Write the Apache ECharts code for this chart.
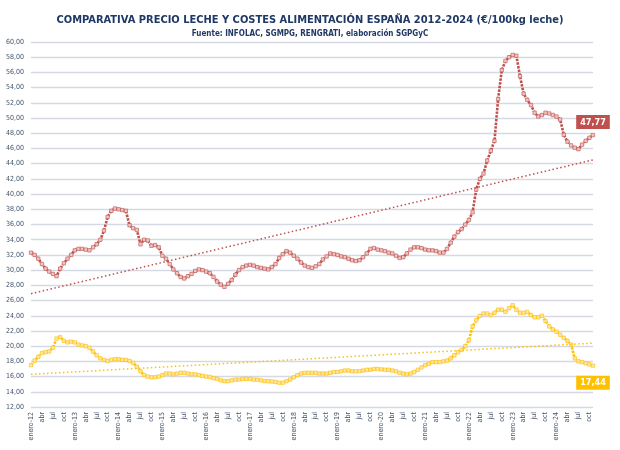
<!DOCTYPE html>
<html>
<head>
<meta charset="utf-8">
<script src="https://cdn.jsdelivr.net/npm/echarts@6/dist/echarts.min.js"></script>
<style>
  html, body { margin: 0; padding: 0; background: #fff; }
  #chart { width: 620px; height: 450px; }
</style>
</head>
<body>
<div id="chart"></div>
<script>
// meses (etiquetas del eje X)
const monthNames = ['enero', 'feb', 'mar', 'abr', 'may', 'jun', 'jul', 'ago', 'sep', 'oct', 'nov', 'dic']
const firstYear = 2012
const monthCount = 155 // enero-12 .. nov-24

// precio leche (€/100kg)
const precioLeche = [
  32.3, 32.0, 31.5, 30.8, 30.2, 29.8, 29.5, 29.2, 30.2, 30.9, 31.5, 32.0,
  32.6, 32.8, 32.8, 32.7, 32.6, 33.0, 33.4, 34.0, 35.2, 37.0, 37.8, 38.1,
  38.0, 37.9, 37.8, 35.9, 35.5, 35.3, 33.4, 34.0, 33.9, 33.2, 33.3, 33.0,
  31.9, 31.5, 30.8, 30.1, 29.6, 29.1, 28.9, 29.2, 29.5, 29.9, 30.1, 30.0,
  29.8, 29.6, 29.1, 28.5, 28.1, 27.8, 28.2, 28.7, 29.4, 30.0, 30.4, 30.6,
  30.7, 30.6, 30.4, 30.3, 30.2, 30.1, 30.4, 30.8, 31.6, 32.1, 32.5, 32.3,
  31.9, 31.5, 31.0, 30.6, 30.4, 30.3, 30.5, 30.8, 31.4, 31.8, 32.2, 32.1,
  32.0, 31.8, 31.7, 31.5, 31.3, 31.2, 31.3, 31.7, 32.2, 32.8, 32.9, 32.7,
  32.6, 32.5, 32.3, 32.2, 31.9, 31.6, 31.7, 32.2, 32.7, 33.0, 33.0, 32.9,
  32.7, 32.6, 32.6, 32.5, 32.3, 32.3, 32.8, 33.6, 34.4, 35.0, 35.4, 36.0,
  36.6, 37.6, 40.6, 42.0, 42.7, 44.4, 45.7, 47.0, 52.5, 56.3, 57.5, 58.0,
  58.3, 58.2, 55.5, 53.2, 52.4, 51.7, 50.7, 50.2, 50.4, 50.7, 50.6, 50.4,
  50.2, 49.8, 47.8, 46.9, 46.4, 46.1, 45.9, 46.5, 47.0, 47.4, 47.77
]

// costes alimentación (€/100kg leche)
const costesAlim = [
  17.5, 18.1, 18.6, 19.1, 19.2, 19.3, 19.8, 21.0, 21.2, 20.7, 20.5, 20.6,
  20.5, 20.2, 20.1, 20.0, 19.8, 19.3, 18.8, 18.4, 18.2, 18.05, 18.2, 18.3,
  18.3, 18.2, 18.2, 18.05, 17.8, 17.3, 16.7, 16.2, 16.0, 15.9, 15.9, 16.0,
  16.2, 16.4, 16.4, 16.3, 16.4, 16.5, 16.5, 16.4, 16.3, 16.3, 16.2, 16.1,
  16.0, 15.95, 15.8, 15.7, 15.5, 15.4, 15.4, 15.5, 15.6, 15.6, 15.7, 15.7,
  15.7, 15.6, 15.6, 15.5, 15.4, 15.4, 15.35, 15.3, 15.2, 15.2, 15.4, 15.6,
  15.9, 16.2, 16.4, 16.5, 16.5, 16.5, 16.5, 16.4, 16.4, 16.4, 16.5, 16.6,
  16.6, 16.7, 16.8, 16.8, 16.7, 16.7, 16.7, 16.8, 16.9, 16.9, 17.0, 17.0,
  16.95, 16.9, 16.9, 16.8, 16.7, 16.5, 16.4, 16.3, 16.4, 16.6, 16.9, 17.2,
  17.5, 17.7, 17.9, 17.9, 17.9, 18.0, 18.1, 18.4, 18.8, 19.2, 19.5, 20.0,
  20.8, 22.6, 23.4, 24.0, 24.3, 24.3, 24.1, 24.4, 24.8, 24.8, 24.5, 25.0,
  25.4, 24.8, 24.4, 24.4, 24.5, 24.1, 23.8, 23.8, 24.0, 23.3, 22.6, 22.2,
  21.9, 21.5, 21.1, 20.7, 20.2, 18.4, 18.0, 17.9, 17.75, 17.6, 17.44
]

// tendencias lineales (inicio, fin)
const tendLeche = [26.9, 44.5]
const tendAlim = [16.3, 20.4]

const categories = []
for (let i = 0; i < monthCount; i++) {
  const m = i % 12
  const y = firstYear + Math.floor(i / 12)
  categories.push(m === 0 ? 'enero-' + String(y).slice(2) : monthNames[m])
}

const redColor = '#c0504d'
const redLight = '#f0c6c4'
const yelColor = '#ffc000'
const yelLight = '#ffe7a3'
const navy = '#1f3864'
const labelColor = '#44546a'
const fontFam = "'Liberation Sans Narrow', 'DejaVu Sans Condensed', sans-serif"

const fmt = (v) => Number(v).toFixed(2).replace('.', ',')
const last = monthCount - 1

const withEndLabel = (arr, color, pos, dist) => arr.map((v, i) => {
  if (i !== last) return v
  return {
    value: v,
    label: {
      show: true,
      position: pos,
      distance: dist,
      formatter: (p) => fmt(p.value),
      color: '#fff',
      fontWeight: 'bold',
      fontSize: 9,
      fontFamily: fontFam,
      backgroundColor: color,
      padding: [3, 4, 2, 4]
    }
  }
})

const chart = echarts.init(document.getElementById('chart'))

const option = {
  animation: false,
  backgroundColor: '#fff',
  title: {
    text: 'COMPARATIVA PRECIO LECHE Y COSTES ALIMENTACIÓN ESPAÑA 2012-2024 (€/100kg leche)',
    subtext: 'Fuente: INFOLAC, SGMPG, RENGRATI, elaboración SGPGyC',
    left: 'center',
    top: 10,
    itemGap: 4,
    textStyle: { color: navy, fontSize: 11, fontWeight: 'bold', fontFamily: fontFam },
    subtextStyle: { color: navy, fontSize: 8, fontWeight: 'bold', fontFamily: fontFam }
  },
  grid: { left: 31, right: 27, top: 42, bottom: 43 },
  xAxis: {
    type: 'category',
    data: categories,
    boundaryGap: false,
    axisLine: { show: false },
    axisTick: { show: false },
    axisLabel: {
      interval: 2,
      rotate: 90,
      margin: 5,
      fontSize: 7,
      color: labelColor,
      fontFamily: fontFam
    },
    splitLine: { show: false }
  },
  yAxis: {
    type: 'value',
    min: 12,
    max: 60,
    interval: 2,
    axisLine: { show: false },
    axisTick: { show: false },
    axisLabel: {
      formatter: fmt,
      fontSize: 7,
      margin: 7,
      color: labelColor,
      fontFamily: fontFam
    },
    splitLine: { lineStyle: { color: '#d5d9e3', width: 1.3 } }
  },
  series: [
    {
      name: 'Precio leche',
      type: 'line',
      data: withEndLabel(precioLeche, redColor, 'top', 4),
      showSymbol: true,
      showAllSymbol: true,
      symbol: 'rect',
      symbolSize: 3.4,
      itemStyle: { color: redLight, borderColor: redColor, borderWidth: 0.6 },
      lineStyle: { color: redColor, width: 2.6, type: [2.5, 1.2] },
      z: 3,
      markLine: {
        silent: true,
        symbol: 'none',
        label: { show: false },
        lineStyle: { color: redColor, type: [1.5, 2.5], width: 1.5 },
        data: [[
          { coord: [categories[0], tendLeche[0]] },
          { coord: [categories[last], tendLeche[1]] }
        ]]
      }
    },
    {
      name: 'Costes alimentación',
      type: 'line',
      data: withEndLabel(costesAlim, yelColor, 'bottom', 8),
      showSymbol: true,
      showAllSymbol: true,
      symbol: 'rect',
      symbolSize: 3.4,
      itemStyle: { color: yelLight, borderColor: yelColor, borderWidth: 0.6 },
      lineStyle: { color: yelColor, width: 2.6, type: [2.5, 1.2] },
      z: 3,
      markLine: {
        silent: true,
        symbol: 'none',
        label: { show: false },
        lineStyle: { color: yelColor, type: [1.5, 2.5], width: 1.5 },
        data: [[
          { coord: [categories[0], tendAlim[0]] },
          { coord: [categories[last], tendAlim[1]] }
        ]]
      }
    }
  ]
}

chart.setOption(option)
</script>
</body>
</html>
